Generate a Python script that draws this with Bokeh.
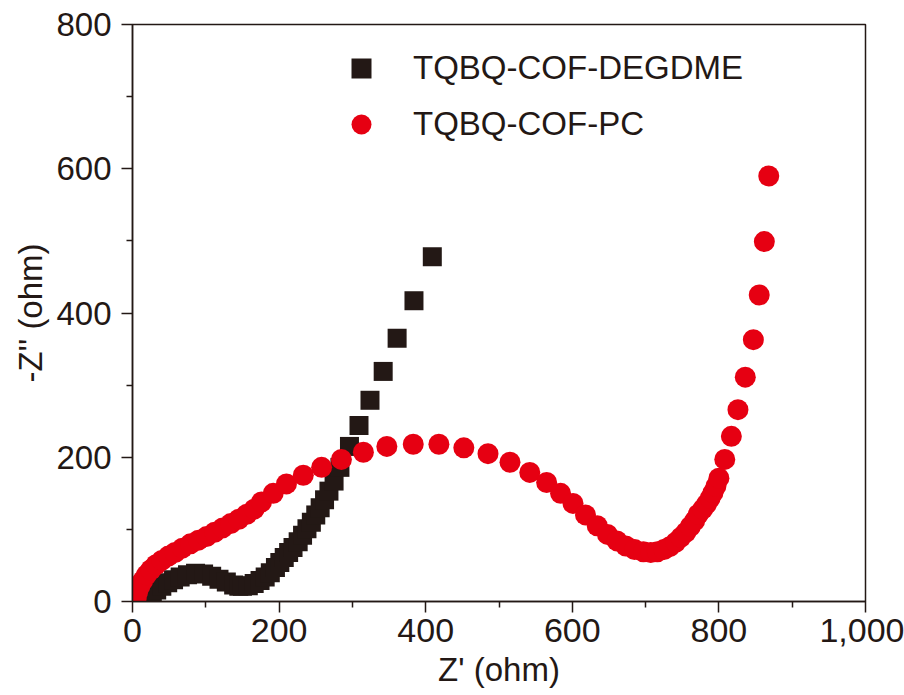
from bokeh.plotting import figure
from bokeh.models import ColumnDataSource, FixedTicker, NumeralTickFormatter
from bokeh.embed import file_html
from bokeh.resources import INLINE

# ---- data ----
degdme_x = [18, 22, 27, 33, 40, 48, 56, 65, 75, 86, 97, 108, 118, 128, 138, 145,
            150, 158, 166, 174, 181, 188, 195, 201, 207, 213, 219, 226, 232, 238,
            244, 250, 256, 262, 268, 275, 283, 296, 309, 324, 342, 361, 384, 409]
degdme_y = [3, 7, 11, 16, 21, 26, 30, 34, 37, 39, 38, 35, 31, 27, 23, 21,
            21, 22, 25, 29, 34, 40, 47, 54, 61, 68, 75, 83, 92, 101,
            110, 120, 130, 141, 153, 167, 186, 215, 244, 279, 319, 365, 417, 478]

pc_x = [5, 7, 10, 14, 19, 25, 32, 40, 49, 58, 68, 79, 90, 101, 112, 123, 134, 145,
        156, 166, 176, 192, 210, 233, 258, 285, 315, 347, 383, 418, 452, 485, 515,
        542, 565, 584, 601, 618, 634, 648, 661, 673, 685, 697, 707, 716, 725, 733,
        741, 748, 755, 761, 767, 772, 778, 783, 788, 792, 796, 800, 808, 817, 826,
        836, 847, 855, 862, 868]
pc_y = [5, 13, 21, 29, 37, 44, 51, 57, 63, 68, 74, 80, 85, 90, 96, 102, 108, 114,
        121, 128, 138, 150, 163, 175, 186, 197, 207, 215, 218, 218, 213, 205, 193,
        179, 165, 150, 136, 120, 105, 93, 84, 77, 72, 69, 68, 69, 72, 76,
        82, 89, 96, 104, 112, 121, 128, 135, 143, 151, 160, 171, 197, 229, 266,
        311, 363, 425, 499, 590]

series_names = ["TQBQ-COF-DEGDME", "TQBQ-COF-PC"]
x_ticks = [0, 200, 400, 600, 800, 1000]
x_minor = [100, 300, 500, 700, 900]
y_ticks = [0, 200, 400, 600, 800]
y_minor = [100, 300, 500, 700]
x_title = "Z' (ohm)"
y_title = "-Z'' (ohm)"

INK = "#231815"
RED = "#E60012"
FONT = "Liberation Sans"

p = figure(width=904, height=695, output_backend="svg", toolbar_location=None,
           x_range=(0, 1000), y_range=(0, 800),
           min_border_left=132, min_border_right=39, min_border_top=24, min_border_bottom=94)
p.background_fill_color = "white"
p.border_fill_color = "white"
p.grid.visible = False
p.outline_line_color = INK
p.outline_line_width = 1.5

src_b = ColumnDataSource(dict(x=degdme_x, y=degdme_y))
src_r = ColumnDataSource(dict(x=pc_x, y=pc_y))
p.scatter("x", "y", source=src_b, marker="square", size=19, fill_color=INK,
          line_color=None, legend_label=series_names[0])
p.scatter("x", "y", source=src_r, marker="circle", size=21, fill_color=RED,
          line_color=None, legend_label=series_names[1])

for ax in (p.xaxis[0], p.yaxis[0]):
    ax.axis_line_color = INK
    ax.axis_line_width = 1.5
    ax.major_tick_line_color = INK
    ax.major_tick_line_width = 1.5
    ax.minor_tick_line_color = INK
    ax.minor_tick_line_width = 1.5
    ax.major_tick_in = 0
    ax.major_tick_out = 11
    ax.minor_tick_in = 0
    ax.minor_tick_out = 6
    ax.major_label_text_color = INK
    ax.major_label_text_font = FONT
    ax.axis_label_text_font = FONT
    ax.axis_label_text_font_style = "normal"
    ax.axis_label_text_color = INK
    ax.axis_label_text_font_size = "33px"

p.xaxis.ticker = FixedTicker(ticks=x_ticks, minor_ticks=x_minor)
p.yaxis.ticker = FixedTicker(ticks=y_ticks, minor_ticks=y_minor)
p.xaxis.formatter = NumeralTickFormatter(format="0,0")
p.xaxis.major_label_text_font_size = "34px"
p.xaxis.major_label_standoff = 6
p.yaxis.major_label_text_font_size = "33px"
p.yaxis.major_label_standoff = 10
p.xaxis.axis_label = x_title
p.xaxis.axis_label_standoff = 6
p.yaxis.axis_label = y_title
p.yaxis.axis_label_standoff = 4

lg = p.legend[0]
lg.location = (204, 452)
lg.border_line_color = None
lg.background_fill_alpha = 0
lg.padding = 0
lg.margin = 0
lg.spacing = 6
lg.glyph_width = 50
lg.glyph_height = 50
lg.label_height = 50
lg.label_standoff = 27
lg.label_text_font = FONT
lg.label_text_font_size = "33px"
lg.label_text_color = INK

open("out.html", "w").write(file_html(p, INLINE))
